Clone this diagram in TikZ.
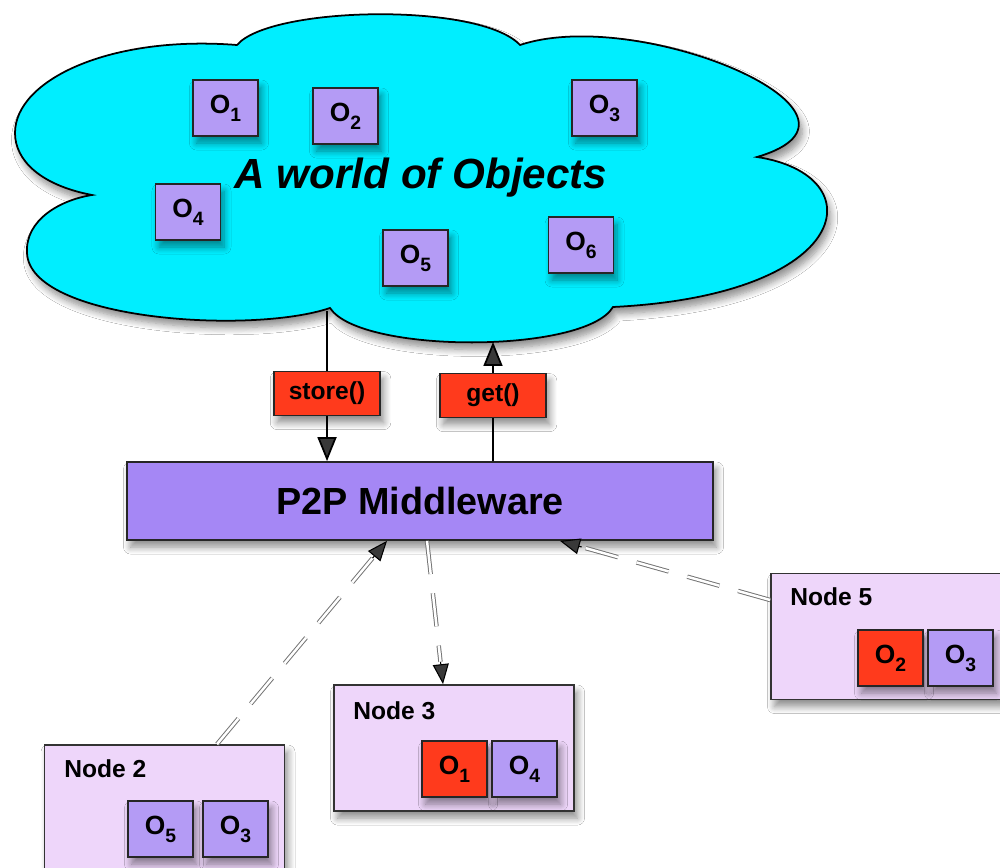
\documentclass[tikz,border=0pt]{standalone}
\usepackage{fontspec}
\setmainfont{Liberation Sans}
\usetikzlibrary{arrows.meta,calc,shadows.blur}
\definecolor{cloudc}{RGB}{0,238,255}
\definecolor{objc}{RGB}{180,155,245}
\definecolor{mwc}{RGB}{165,135,245}
\definecolor{nodec}{RGB}{238,214,250}
\definecolor{redc}{RGB}{255,58,28}
\newcommand{\ob}[1]{O\raisebox{-4.5pt}{\fontsize{11}{11}\selectfont #1}}
\tikzset{
  shad/.style={blur shadow={shadow xshift=2pt,shadow yshift=-4pt,shadow opacity=45,shadow blur steps=8,shadow blur radius=4pt}},
  obj/.style={draw=black!85,line width=0.9pt,fill=objc,minimum width=1.3cm,minimum height=1.12cm,inner sep=0pt,font=\fontsize{15}{15}\selectfont\bfseries,shad},
  robj/.style={obj,fill=redc},
  meth/.style={draw=black!85,line width=0.9pt,fill=redc,minimum width=2.13cm,minimum height=0.88cm,inner sep=0pt,font=\fontsize{14}{14}\selectfont\bfseries,shad},
  pnode/.style={draw=black!80,line width=1pt,fill=nodec,minimum width=4.8cm,minimum height=2.52cm,inner sep=0pt,shad},
  ntitle/.style={anchor=west,inner sep=0pt,font=\fontsize{14}{14}\selectfont\bfseries},
  arr/.style={line width=1pt,-{Triangle[length=0.48cm,width=0.38cm]}},
  dline/.style={draw=black!55,double=white,double distance=1.4pt,line width=0.55pt,dash pattern=on 19pt off 11pt},
  tip/.style={line width=0.6pt,-{Triangle[length=0.4cm,width=0.32cm]}}
}
\begin{document}
\begin{tikzpicture}[x=0.02cm,y=-0.02cm]
\clip (0,0) rectangle (1000,868);
\fill[white] (0,0) rectangle (1000,868);
% cloud
\draw[line width=1pt,fill=cloudc,shad]
  (237,45) .. controls (270,6) and (480,2) .. (520,45)
  .. controls (640,5) and (900,115) .. (757,157)
  .. controls (875,175) and (855,295) .. (613,307)
  .. controls (585,354) and (360,354) .. (330,308)
  .. controls (250,335) and (30,320) .. (27,253)
  .. controls (25,220) and (60,200) .. (92,195)
  .. controls (40,185) and (15,160) .. (15,133)
  .. controls (15,80) and (110,35) .. (237,45) -- cycle;
\node[font=\fontsize{24}{24}\selectfont\bfseries\itshape,inner sep=0pt] (title) at (421,178) {A world of Objects};
\node[obj] (o1) at (225.5,108) {\ob{1}};
\node[obj] (o2) at (345.5,116) {\ob{2}};
\node[obj] (o3) at (604.5,108) {\ob{3}};
\node[obj] (o4) at (188,212) {\ob{4}};
\node[obj] (o5) at (415.5,258) {\ob{5}};
\node[obj] (o6) at (581,245) {\ob{6}};
% middleware
\node[draw=black!85,line width=1pt,fill=mwc,minimum width=11.72cm,minimum height=1.56cm,inner sep=0pt,font=\fontsize{21.5}{21.5}\selectfont\bfseries,shad] (mw) at (420,501) {P2P Middleware};
\coordinate (cs) at (327,311);
\coordinate (cg) at (493,342);
\draw[arr] (cs) -- ([xshift=-1.86cm]mw.north) node[meth,pos=0.55] (store) {store()};
\draw[arr] ([xshift=1.46cm]mw.north) -- (cg) node[meth,pos=0.55] (get) {get()};
% peer nodes
\node[pnode] (n2) at (164.5,808) {};
\node[ntitle] at (64,769) {Node 2};
\node[obj] (n2o5) at (160.5,829) {\ob{5}};
\node[obj] (n2o3) at (235.5,829) {\ob{3}};
\node[pnode] (n3) at (454,748) {};
\node[ntitle] at (353,711) {Node 3};
\node[robj] (n3o1) at (454.5,769) {\ob{1}};
\node[obj] (n3o4) at (524.5,769) {\ob{4}};
\node[pnode] (n5) at (891,636.5) {};
\node[ntitle] at (790,597) {Node 5};
\node[robj] (n5o2) at (890.5,658) {\ob{2}};
\node[obj] (n5o3) at (960.5,658) {\ob{3}};
% dashed connectors
\coordinate (a2) at ([xshift=1.05cm]n2.north);
\coordinate (b2) at ([xshift=-0.66cm]mw.south);
\draw[dline] (a2) -- ($(b2)!0.45cm!(a2)$);
\draw[tip] ($(b2)!0.45cm!(a2)$) -- (b2);
\coordinate (a3) at ([xshift=0.14cm]mw.south);
\coordinate (b3) at ([xshift=-0.22cm]n3.north);
\draw[dline] (a3) -- ($(b3)!0.45cm!(a3)$);
\draw[tip] ($(b3)!0.45cm!(a3)$) -- (b3);
\coordinate (a5) at ([yshift=0.73cm]n5.west);
\coordinate (b5) at ([xshift=2.8cm]mw.south);
\draw[dline] (a5) -- ($(b5)!0.45cm!(a5)$);
\draw[tip] ($(b5)!0.45cm!(a5)$) -- (b5);
\end{tikzpicture}
\end{document}
